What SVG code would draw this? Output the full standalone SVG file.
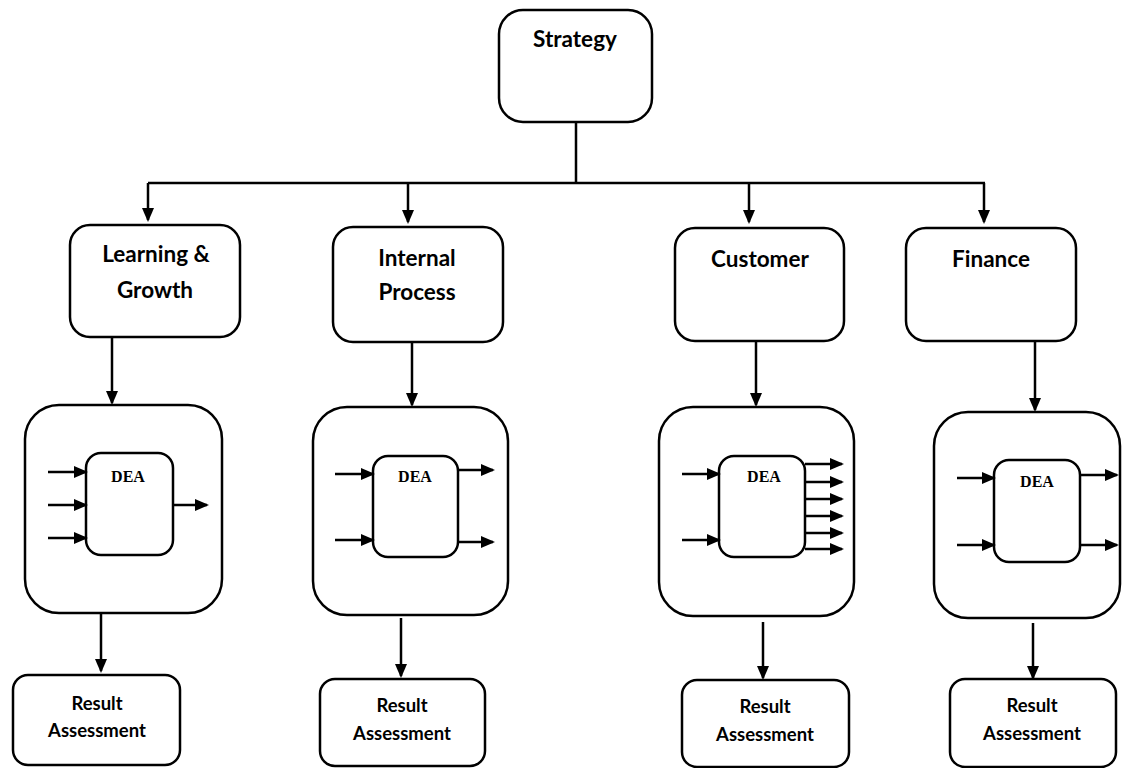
<svg xmlns="http://www.w3.org/2000/svg" width="1122" height="768" viewBox="0 0 1122 768">
<defs>
<marker id="ah" viewBox="0 0 14 12" refX="12" refY="6" markerWidth="14" markerHeight="12" markerUnits="userSpaceOnUse" orient="auto">
<path d="M0,0 L14,6 L0,12 z" fill="#000"/>
</marker>
<style>
.box{fill:#fff;stroke:#000;stroke-width:2.5}
.ln{fill:none;stroke:#000;stroke-width:2.5}
.ar{fill:none;stroke:#000;stroke-width:2.5;marker-end:url(#ah)}
.lbl{font-family:Lato,"Liberation Sans",sans-serif;font-weight:bold;font-size:22.5px;text-anchor:middle;fill:#000}
.res{font-family:Lato,"Liberation Sans",sans-serif;font-weight:bold;font-size:18.5px;text-anchor:middle;fill:#000}
.dea{font-family:"Liberation Serif",serif;font-weight:bold;font-size:16px;text-anchor:middle;fill:#000}
</style>
</defs>
<rect width="1122" height="768" fill="#fff"/>
<g id="connectors">
<path class="ln" d="M576,122 V183 M148,183 H985"/>
<path class="ar" d="M148,183 V220"/>
<path class="ar" d="M408,183 V222"/>
<path class="ar" d="M749,183 V222"/>
<path class="ar" d="M984,183 V222"/>
<path class="ar" d="M112,337 V403"/>
<path class="ar" d="M412,342 V405"/>
<path class="ar" d="M756,341 V405"/>
<path class="ar" d="M1035,341 V410"/>
<path class="ar" d="M101,613 V671"/>
<path class="ar" d="M401,618 V676"/>
<path class="ar" d="M763,622 V678"/>
<path class="ar" d="M1033,623 V678"/>
</g>
<g id="strategy">
<rect class="box" x="499" y="10" width="153" height="112" rx="24"/>
<text class="lbl" x="575" y="47" font-size="20.5">Strategy</text>
</g>
<g id="learning">
<rect class="box" x="70" y="225" width="170" height="112" rx="20"/>
<text class="lbl" x="156" y="262">Learning &amp;</text>
<text class="lbl" x="155" y="298">Growth</text>
</g>
<g id="internal">
<rect class="box" x="333" y="227" width="170" height="115" rx="20"/>
<text class="lbl" x="417" y="266">Internal</text>
<text class="lbl" x="417" y="300">Process</text>
</g>
<g id="customer">
<rect class="box" x="675" y="228" width="169" height="113" rx="20"/>
<text class="lbl" x="760" y="267">Customer</text>
</g>
<g id="finance">
<rect class="box" x="906" y="228" width="170" height="113" rx="20"/>
<text class="lbl" x="991" y="267">Finance</text>
</g>
<g id="dea1">
<rect class="box" x="25" y="405" width="197" height="208" rx="34"/>
<rect class="box" x="86" y="453" width="87" height="102" rx="15"/>
<text class="dea" x="128" y="482">DEA</text>
<path class="ar" d="M48,472 H86"/>
<path class="ar" d="M48,505 H86"/>
<path class="ar" d="M48,538 H86"/>
<path class="ar" d="M173,505 H207"/>
</g>
<g id="dea2">
<rect class="box" x="313" y="407" width="195" height="208" rx="34"/>
<rect class="box" x="373" y="456" width="85" height="101" rx="15"/>
<text class="dea" x="415" y="482">DEA</text>
<path class="ar" d="M335,474 H373"/>
<path class="ar" d="M335,540 H373"/>
<path class="ar" d="M458,470 H493"/>
<path class="ar" d="M458,542 H493"/>
</g>
<g id="dea3">
<rect class="box" x="659" y="407" width="195" height="209" rx="34"/>
<rect class="box" x="719" y="456" width="86" height="101" rx="15"/>
<text class="dea" x="764" y="482" font-size="14">DEA</text>
<path class="ar" d="M682,474 H719"/>
<path class="ar" d="M682,540 H719"/>
<path class="ar" d="M805,464 H842"/>
<path class="ar" d="M805,482 H842"/>
<path class="ar" d="M805,499 H842"/>
<path class="ar" d="M805,516 H842"/>
<path class="ar" d="M805,533 H842"/>
<path class="ar" d="M805,549 H842"/>
</g>
<g id="dea4">
<rect class="box" x="934" y="412" width="186" height="206" rx="34"/>
<rect class="box" x="994" y="460" width="86" height="102" rx="15"/>
<text class="dea" x="1037" y="487">DEA</text>
<path class="ar" d="M957,478 H994"/>
<path class="ar" d="M957,545 H994"/>
<path class="ar" d="M1080,475 H1117"/>
<path class="ar" d="M1080,545 H1117"/>
</g>
<g id="result1">
<rect class="box" x="13" y="675" width="167" height="90" rx="15"/>
<text class="res" x="97" y="710">Result</text>
<text class="res" x="97" y="737">Assessment</text>
</g>
<g id="result2">
<rect class="box" x="320" y="679" width="165" height="87" rx="15"/>
<text class="res" x="402" y="712">Result</text>
<text class="res" x="402" y="740">Assessment</text>
</g>
<g id="result3">
<rect class="box" x="682" y="680" width="167" height="87" rx="15"/>
<text class="res" x="765" y="713">Result</text>
<text class="res" x="765" y="741">Assessment</text>
</g>
<g id="result4">
<rect class="box" x="950" y="679" width="166" height="88" rx="15"/>
<text class="res" x="1032" y="712">Result</text>
<text class="res" x="1032" y="740">Assessment</text>
</g>
</svg>
